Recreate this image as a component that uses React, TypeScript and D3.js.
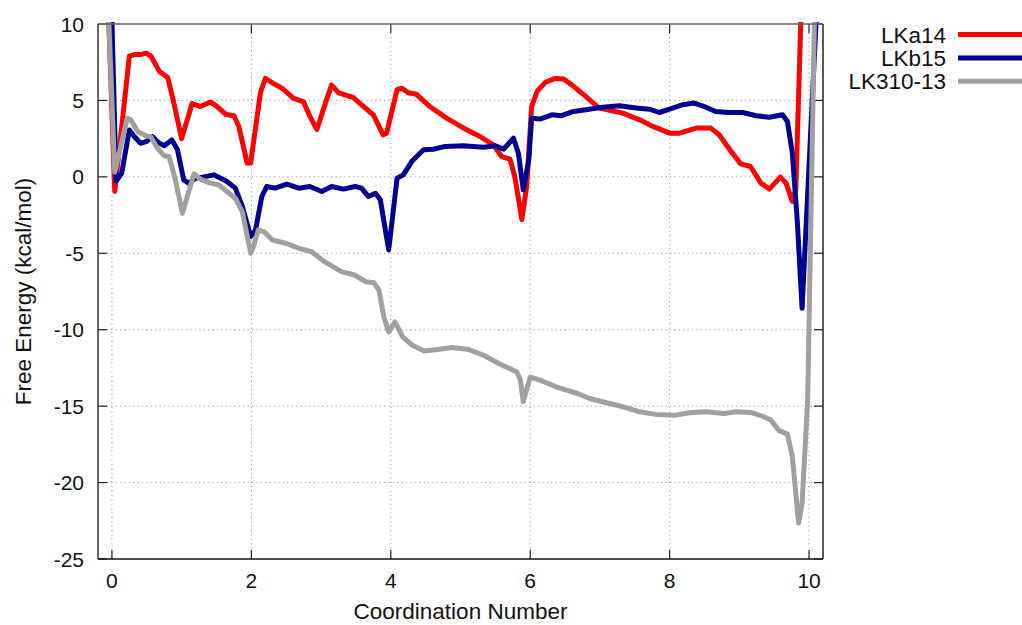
import * as d3 from 'd3';

// coordination number / free energy
const lkaX = [-0.06, 0.04, 0.25, 0.32, 0.41, 0.49, 0.56, 0.68, 0.8, 0.89, 1.0, 1.15, 1.27, 1.41, 1.51, 1.63, 1.75, 1.82, 1.94, 1.99, 2.13, 2.2, 2.32, 2.44, 2.6, 2.75, 2.84, 2.94, 3.06, 3.15, 3.25, 3.46, 3.61, 3.75, 3.89, 3.94, 4.09, 4.16, 4.25, 4.37, 4.56, 4.8, 5.04, 5.28, 5.47, 5.59, 5.71, 5.78, 5.88, 5.95, 6.02, 6.1, 6.22, 6.36, 6.48, 6.6, 6.75, 6.99, 7.14, 7.33, 7.57, 7.76, 8.0, 8.14, 8.38, 8.59, 8.71, 8.9, 9.02, 9.16, 9.31, 9.43, 9.59, 9.67, 9.76, 9.81, 9.9];
const lkaY = [12, -0.96, 7.9, 8.0, 8.0, 8.1, 7.9, 6.9, 6.5, 4.8, 2.5, 4.8, 4.6, 4.9, 4.6, 4.1, 4.0, 3.3, 0.9, 0.9, 5.5, 6.45, 6.1, 5.8, 5.15, 4.9, 3.95, 3.1, 4.8, 6.0, 5.5, 5.2, 4.6, 4.06, 2.75, 2.86, 5.7, 5.8, 5.5, 5.4, 4.6, 3.84, 3.2, 2.64, 2.1, 1.33, 1.16, 0.0, -2.8, -0.6, 4.6, 5.6, 6.2, 6.44, 6.4, 6.0, 5.44, 4.5, 4.35, 4.17, 3.73, 3.3, 2.86, 2.86, 3.19, 3.19, 2.75, 1.55, 0.85, 0.68, -0.41, -0.8, -0.02, -0.41, -1.6, -0.85, 13];

const lkbX = [-0.01, 0.06, 0.14, 0.25, 0.32, 0.41, 0.49, 0.58, 0.68, 0.75, 0.86, 0.94, 1.03, 1.1, 1.2, 1.3, 1.46, 1.56, 1.65, 1.77, 1.87, 1.99, 2.06, 2.15, 2.22, 2.34, 2.51, 2.68, 2.84, 3.01, 3.15, 3.32, 3.49, 3.58, 3.68, 3.78, 3.85, 3.97, 4.09, 4.18, 4.3, 4.47, 4.61, 4.78, 5.04, 5.33, 5.5, 5.62, 5.76, 5.83, 5.9, 5.98, 6.02, 6.14, 6.31, 6.45, 6.62, 6.8, 7.04, 7.28, 7.52, 7.71, 7.85, 8.0, 8.19, 8.35, 8.47, 8.66, 8.85, 9.05, 9.24, 9.43, 9.62, 9.69, 9.76, 9.83, 9.9, 10.11];
const lkbY = [12, -0.3, 0.24, 3.07, 2.64, 2.2, 2.3, 2.64, 2.2, 2.03, 2.42, 1.77, -0.2, -0.41, -0.09, -0.02, 0.13, -0.09, -0.3, -0.74, -1.94, -3.9, -3.47, -1.29, -0.63, -0.74, -0.48, -0.74, -0.63, -0.96, -0.63, -0.8, -0.63, -0.74, -1.29, -1.07, -1.5, -4.78, -0.09, 0.13, 1.0, 1.77, 1.81, 1.99, 2.03, 1.94, 2.03, 1.81, 2.53, 1.55, -0.85, 1.11, 3.84, 3.78, 4.06, 4.0, 4.28, 4.39, 4.56, 4.65, 4.5, 4.43, 4.21, 4.43, 4.72, 4.83, 4.65, 4.28, 4.21, 4.21, 4.0, 3.9, 4.06, 3.62, 1.55, -2.8, -8.6, 11];

const lk310X = [-0.06, 0.04, 0.22, 0.27, 0.37, 0.46, 0.56, 0.65, 0.75, 0.82, 0.91, 1.01, 1.08, 1.18, 1.27, 1.41, 1.53, 1.65, 1.77, 1.87, 1.99, 2.03, 2.1, 2.18, 2.3, 2.49, 2.68, 2.86, 3.05, 3.29, 3.48, 3.64, 3.76, 3.83, 3.9, 3.97, 4.06, 4.17, 4.31, 4.48, 4.67, 4.88, 5.12, 5.33, 5.57, 5.81, 5.86, 5.9, 6.0, 6.14, 6.38, 6.69, 6.85, 7.14, 7.33, 7.57, 7.8, 8.09, 8.28, 8.52, 8.78, 8.95, 9.16, 9.33, 9.45, 9.57, 9.69, 9.76, 9.85, 9.9, 9.98, 10.08];
const lk310Y = [12, 0.3, 3.84, 3.73, 2.97, 2.75, 2.6, 1.88, 1.38, 1.33, -0.2, -2.38, -1.29, 0.2, -0.15, -0.41, -0.52, -0.96, -1.4, -2.27, -5.0, -4.56, -3.47, -3.58, -4.13, -4.34, -4.67, -4.89, -5.55, -6.2, -6.42, -6.86, -6.93, -7.41, -9.16, -10.14, -9.49, -10.47, -11.02, -11.39, -11.3, -11.17, -11.3, -11.67, -12.26, -12.77, -13.3, -14.7, -13.1, -13.3, -13.75, -14.19, -14.5, -14.83, -15.04, -15.37, -15.54, -15.59, -15.43, -15.37, -15.48, -15.37, -15.41, -15.65, -15.91, -16.6, -16.83, -18.3, -22.65, -21.35, -14.6, 11];

const seriesNames = ['LKa14', 'LKb15', 'LK310-13'];
const seriesColors = ['#ff0000', '#000090', '#a0a0a0'];
const xTicks = [0, 2, 4, 6, 8, 10];
const yTicks = [10, 5, 0, -5, -10, -15, -20, -25];

const W = 1022;
const H = 625;
const left = 98;
const right = 823;
const top = 24;
const bottom = 559;
const FONT = '"Liberation Sans", Arial, Helvetica, sans-serif';

export default function App() {
  const x = d3.scaleLinear().domain([-0.2, 10.2]).range([left, right]);
  const y = d3.scaleLinear().domain([-25, 10]).range([bottom, top]);

  const line = d3
    .line<[number, number]>()
    .x((d) => x(d[0]))
    .y((d) => y(d[1]));

  const series = [
    d3.zip(lkaX, lkaY) as [number, number][],
    d3.zip(lkbX, lkbY) as [number, number][],
    d3.zip(lk310X, lk310Y) as [number, number][],
  ];

  return (
    <svg width={W} height={H} style={{ position: 'absolute', left: 0, top: 0, background: '#fff' }}>
      <defs>
        <clipPath id="plot">
          <rect x={left} y={top - 2} width={right - left} height={bottom - top + 2} />
        </clipPath>
      </defs>

      {/* grid */}
      <g stroke="#999" strokeWidth={1} strokeDasharray="1.2,3.2">
        {xTicks.map((t) => (
          <line key={'gx' + t} x1={x(t)} x2={x(t)} y1={top} y2={bottom} />
        ))}
        {yTicks
          .filter((t) => t > -25 && t < 10)
          .map((t) => (
            <line key={'gy' + t} x1={left} x2={right} y1={y(t)} y2={y(t)} />
          ))}
      </g>

      {/* ticks, inward on all sides */}
      <g stroke="#222" strokeWidth={1.2}>
        {xTicks.map((t) => (
          <g key={'tx' + t}>
            <line x1={x(t)} x2={x(t)} y1={bottom} y2={bottom - 9} />
            <line x1={x(t)} x2={x(t)} y1={top} y2={top + 9} />
          </g>
        ))}
        {yTicks.map((t) => (
          <g key={'ty' + t}>
            <line x1={left} x2={left + 9} y1={y(t)} y2={y(t)} />
            <line x1={right} x2={right - 9} y1={y(t)} y2={y(t)} />
          </g>
        ))}
      </g>

      {/* curves */}
      <g clipPath="url(#plot)" fill="none" strokeWidth={5} strokeLinejoin="round">
        {series.map((s, i) => (
          <path key={seriesNames[i]} d={line(s) ?? ''} stroke={seriesColors[i]} />
        ))}
      </g>

      {/* frame */}
      <line x1={left} x2={right} y1={top} y2={top} stroke="#666" strokeWidth={1.5} />
      <line x1={left} x2={left} y1={top} y2={bottom} stroke="#333" strokeWidth={1.5} />
      <line x1={right} x2={right} y1={top} y2={bottom} stroke="#222" strokeWidth={1.5} />
      <line x1={left} x2={right} y1={bottom} y2={bottom} stroke="#111" strokeWidth={1.5} />

      {/* tick labels */}
      <g fontFamily={FONT} fontSize={21} fill="#111">
        {xTicks.map((t) => (
          <text key={'lx' + t} x={x(t)} y={588} textAnchor="middle">
            {t}
          </text>
        ))}
        {yTicks.map((t) => (
          <text key={'ly' + t} x={84} y={y(t)} dy="0.36em" textAnchor="end">
            {t}
          </text>
        ))}
      </g>

      {/* axis titles */}
      <text x={(left + right) / 2} y={619} textAnchor="middle" fontFamily={FONT} fontSize={22.5} fill="#111">
        Coordination Number
      </text>
      <text
        transform={`translate(31,${(top + bottom) / 2}) rotate(-90)`}
        textAnchor="middle"
        fontFamily={FONT}
        fontSize={22.5}
        fill="#111"
      >
        Free Energy (kcal/mol)
      </text>

      {/* legend */}
      <g fontFamily={FONT} fontSize={22.5} fill="#111">
        {seriesNames.map((name, i) => {
          const ly = 34.5 + i * 23.4;
          return (
            <g key={'lg' + name}>
              <text x={946} y={ly} dy="0.36em" textAnchor="end">
                {name}
              </text>
              <line x1={958} x2={1030} y1={ly} y2={ly} stroke={seriesColors[i]} strokeWidth={5} />
            </g>
          );
        })}
      </g>
    </svg>
  );
}
